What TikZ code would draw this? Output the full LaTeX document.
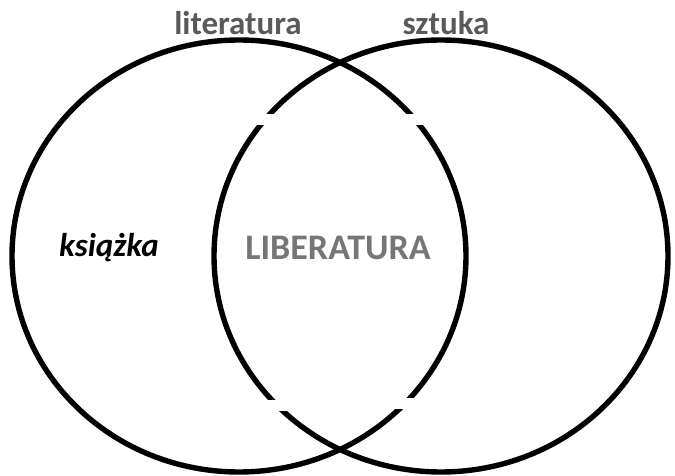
\documentclass[tikz,border=0pt]{standalone}
\usepackage{fontspec}
\setmainfont{Carlito}
\usetikzlibrary{shapes.geometric}
\definecolor{labelgray}{RGB}{89,89,89}
\definecolor{centergray}{RGB}{118,118,118}
\tikzset{
  setring/.style={draw=black, line width=5.4pt, ellipse, inner sep=0pt,
    minimum width=454pt, minimum height=432pt},
  gapcut/.style={fill=white, draw=none},
  setname/.style={font=\fontsize{33}{33}\selectfont\bfseries, text=labelgray, anchor=base, inner sep=0pt},
}
\begin{document}
\begin{tikzpicture}[x=1pt, y=-1pt]
  \useasboundingbox (0,0) rectangle (675,476);
  % the two sets
  \node[setring] (lit) at (239,256) {};
  \node[setring] (art) at (441,256) {};
  % breaks in the inner arcs
  \fill[gapcut] (250,114) rectangle (290,125.5);
  \fill[gapcut] (392,114) rectangle (432,125.5);
  \fill[gapcut] (255,399.5) rectangle (295,410.5);
  \fill[gapcut] (385,398) rectangle (425,409);
  % labels
  \node[setname] (litname) at (238,35) {literatura};
  \node[setname] (artname) at (446,35) {sztuka};
  \node[font=\fontsize{33}{33}\selectfont\bfseries\itshape, text=black, anchor=base, inner sep=0pt]
    (book) at (109,256) {książka};
  \node[font=\fontsize{36}{36}\selectfont\bfseries, text=centergray, anchor=base, inner sep=0pt]
    (liber) at (338,259) {LIBERATURA};
\end{tikzpicture}
\end{document}
